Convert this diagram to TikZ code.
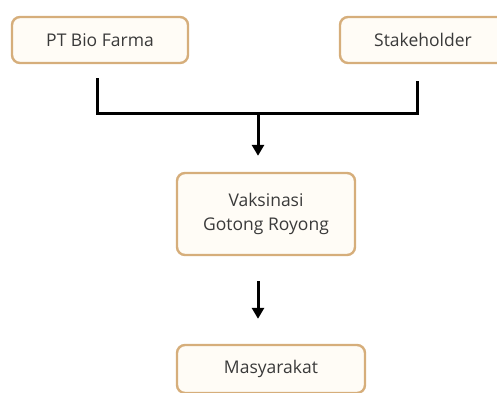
\documentclass[tikz,border=0pt]{standalone}
\usepackage{fontspec}
\setmainfont{Open Sans}
\usetikzlibrary{arrows.meta,positioning}
\definecolor{boxline}{HTML}{D6AE7B}
\definecolor{boxfill}{HTML}{FFFCF6}
\definecolor{boxtext}{HTML}{3A3A3A}

\begin{document}
\begin{tikzpicture}[x=1pt, y=-1pt, font=\fontsize{17.5}{24}\selectfont,
  entity/.style={draw=boxline, fill=boxfill, line width=2.4pt, rounded corners=8pt, text=boxtext, align=center, inner sep=2pt},
  link/.style={line width=3pt, black},
  flow/.style={link, -{Triangle[width=12pt,length=11pt]}}]
  \useasboundingbox (0,0) rectangle (497,392);
  % ---- boxes ----
  \node[entity, minimum width=176pt, minimum height=46pt] (pbf) at (100,40) {PT Bio Farma};
  \node[entity, minimum width=166pt, minimum height=46pt] (stk) at (423,40) {Stakeholder};
  \node[entity, minimum width=178pt, minimum height=82pt] (vgr) at (266,214) {Vaksinasi\\Gotong Royong};
  \node[entity, minimum width=188pt, minimum height=48pt] (msy) at (271,369) {Masyarakat};
  % ---- connectors ----
  \coordinate (join) at (258,113);
  \draw[link, shorten <=14pt] ([xshift=-3pt]pbf.south) |- (join);
  \draw[link, shorten <=17pt] ([xshift=-6pt]stk.south) |- (join);
  \draw[flow, shorten >=16pt] (join) -- (join |- vgr.north);
  \draw[flow, shorten <=25pt, shorten >=25pt] (vgr.south -| join) -- (msy.north -| join);
\end{tikzpicture}
\end{document}
